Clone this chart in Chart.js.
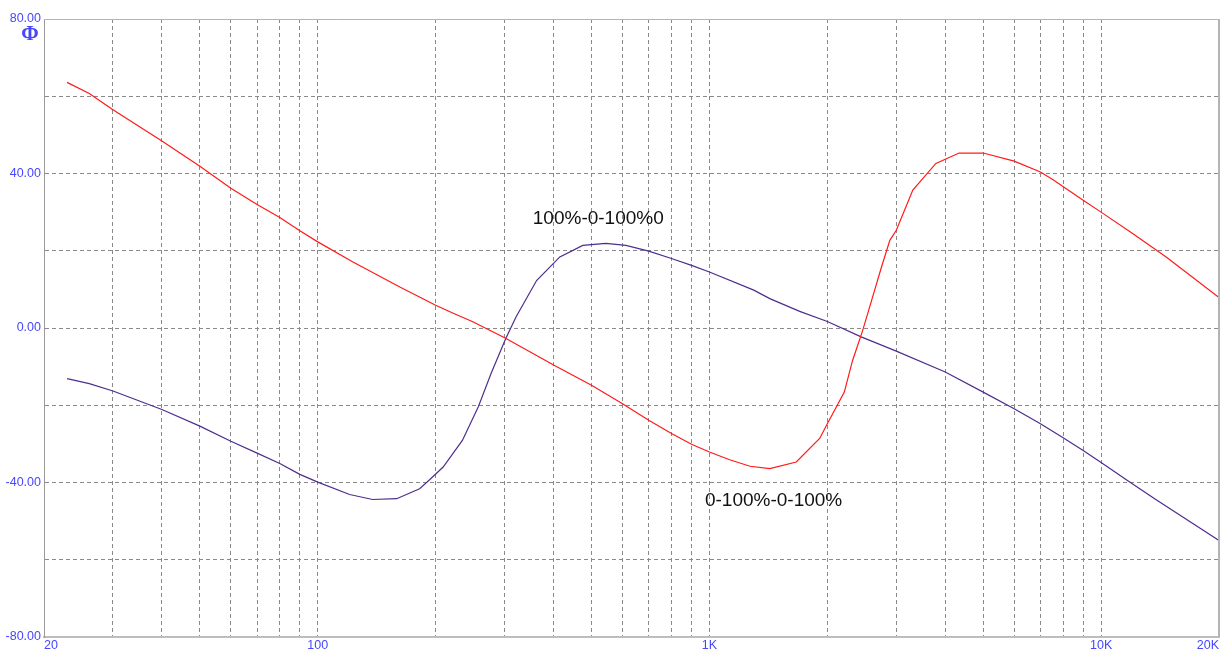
<!DOCTYPE html>
<html>
<head>
<meta charset="utf-8">
<script src="https://cdn.jsdelivr.net/npm/chart.js@4/dist/chart.umd.min.js"></script>
<style>
  html, body { margin: 0; padding: 0; background: #ffffff; }
  #wrap { width: 1221px; height: 650px; }
</style>
</head>
<body>
<div id="wrap"><canvas id="c" width="1221" height="650"></canvas></div>
<script>
// ---- data ----
const redFreq  = [22.9, 26.1, 30, 40, 50, 60, 70, 80, 90, 100, 123, 162, 200, 221, 248, 300, 362, 400, 500, 600, 700, 800, 900, 1000, 1126, 1270, 1426, 1666, 1912, 2000, 2210, 2320, 2462, 2596, 2750, 2888, 3000, 3306, 3786, 4340, 5000, 6000, 7000, 7540, 9000, 10000, 12060, 14660, 20000];
const redPhase = [63.6, 60.7, 56.5, 48.4, 41.9, 36.2, 32.0, 28.6, 25.2, 22.3, 17.1, 10.6, 5.9, 3.9, 1.7, -2.5, -7.1, -9.6, -14.8, -19.6, -23.9, -27.3, -30.1, -32.1, -34.1, -35.8, -36.4, -34.7, -28.6, -24.8, -16.6, -8.4, -0.6, 7.2, 15.8, 22.7, 25.3, 35.7, 42.6, 45.3, 45.3, 43.2, 40.4, 38.4, 33.1, 30.0, 24.4, 18.4, 7.9];

const purpleFreq  = [22.9, 26.1, 30, 40, 50, 60, 70, 80, 90, 100, 120.6, 138, 159, 182, 193, 209, 234, 257, 277, 302, 321, 362, 415, 475, 544, 612, 700, 800, 900, 1000, 1298, 1426, 1700, 2000, 2440, 3000, 4000, 5000, 6000, 7000, 8000, 9000, 10000, 11600, 13700, 20000];
const purplePhase = [-13.1, -14.4, -16.3, -21.1, -25.4, -29.3, -32.4, -35.1, -37.9, -39.9, -43.1, -44.4, -44.2, -41.6, -39.3, -36.0, -29.1, -20.4, -11.8, -2.7, 2.9, 12.3, 18.4, 21.4, 21.9, 21.4, 19.9, 18.0, 16.2, 14.5, 9.8, 7.6, 4.3, 1.7, -2.3, -6.0, -11.4, -16.6, -20.9, -24.8, -28.4, -31.7, -34.8, -39.3, -44.2, -55.0];

const xGridValues = [20, 30, 40, 50, 60, 70, 80, 90, 100, 200, 300, 400, 500, 600, 700, 800, 900, 1000, 2000, 3000, 4000, 5000, 6000, 7000, 8000, 9000, 10000, 20000];
const xTickLabels = { 20: '20', 100: '100', 1000: '1K', 10000: '10K', 20000: '20K' };
const yLabelValues = [80, 40, 0, -40, -80];

const annotations = [
  { text: '100%-0-100%0', freq: 354, phase: 28.4 },
  { text: '0-100%-0-100%', freq: 974, phase: -44.6 }
];

const toPoints = (xs, ys) => xs.map((x, i) => ({ x: x, y: ys[i] }));

const LABEL_BLUE = '#4646ff';
const GRID = '#8a8a8a';

const framePlugin = {
  id: 'frame',
  beforeDraw(chart) {
    const ctx = chart.ctx;
    ctx.save();
    ctx.fillStyle = '#ffffff';
    ctx.fillRect(0, 0, chart.width, chart.height);
    ctx.restore();
  },
  afterDraw(chart) {
    const { ctx, chartArea: a, scales } = chart;
    ctx.save();
    // top and right frame
    ctx.strokeStyle = '#b4b4b4';
    ctx.lineWidth = 1;
    ctx.beginPath();
    ctx.moveTo(a.left, a.top + 0.5);
    ctx.lineTo(a.right, a.top + 0.5);
    ctx.stroke();
    ctx.lineWidth = 2;
    ctx.beginPath();
    ctx.moveTo(a.right, a.top);
    ctx.lineTo(a.right, a.bottom);
    ctx.stroke();
    // Phi symbol
    ctx.fillStyle = LABEL_BLUE;
    ctx.font = 'bold 21px "Liberation Serif", "DejaVu Serif", serif';
    ctx.textAlign = 'center';
    ctx.textBaseline = 'middle';
    ctx.fillText('Φ', 30, 35);
    // curve annotations
    ctx.fillStyle = '#111111';
    ctx.font = '19px "Liberation Sans", Arial, sans-serif';
    ctx.textAlign = 'left';
    ctx.textBaseline = 'middle';
    annotations.forEach(an => {
      ctx.fillText(an.text, scales.x.getPixelForValue(an.freq), scales.y.getPixelForValue(an.phase));
    });
    ctx.restore();
  }
};

new Chart(document.getElementById('c'), {
  type: 'line',
  data: {
    datasets: [
      {
        label: '0-100%-0-100%',
        data: toPoints(redFreq, redPhase),
        borderColor: '#ff1a1a',
        borderWidth: 1.2,
        pointRadius: 0,
        tension: 0,
        fill: false
      },
      {
        label: '100%-0-100%0',
        data: toPoints(purpleFreq, purplePhase),
        borderColor: '#4f2d8f',
        borderWidth: 1.2,
        pointRadius: 0,
        tension: 0,
        fill: false
      }
    ]
  },
  options: {
    responsive: false,
    animation: false,
    devicePixelRatio: 1,
    layout: { padding: { top: 19, right: 2, left: 0, bottom: 0 } },
    plugins: {
      legend: { display: false },
      tooltip: { enabled: false },
      title: { display: false }
    },
    scales: {
      x: {
        type: 'logarithmic',
        min: 20,
        max: 20000,
        afterBuildTicks: (scale) => { scale.ticks = xGridValues.map(v => ({ value: v })); },
        afterFit: (scale) => { scale.height = 13; },
        ticks: {
          autoSkip: false,
          maxRotation: 0,
          minRotation: 0,
          align: 'inner',
          padding: 1,
          color: LABEL_BLUE,
          font: { family: '"Liberation Sans", Arial, sans-serif', size: 12.5 },
          callback: (value) => (xTickLabels[value] !== undefined ? xTickLabels[value] : '')
        },
        grid: { color: GRID, lineWidth: 1, drawTicks: false },
        border: { display: true, color: '#bdbdbd', width: 2, dash: [4, 3] }
      },
      y: {
        type: 'linear',
        min: -80,
        max: 80,
        afterFit: (scale) => { scale.width = 44; },
        ticks: {
          stepSize: 20,
          padding: 3,
          color: LABEL_BLUE,
          font: { family: '"Liberation Sans", Arial, sans-serif', size: 12.5 },
          callback: (value) => (yLabelValues.includes(value) ? value.toFixed(2) : '')
        },
        grid: { color: GRID, lineWidth: 1, drawTicks: false },
        border: { display: true, color: '#9a9a9a', width: 1, dash: [4, 3] }
      }
    }
  },
  plugins: [framePlugin]
});
</script>
</body>
</html>
